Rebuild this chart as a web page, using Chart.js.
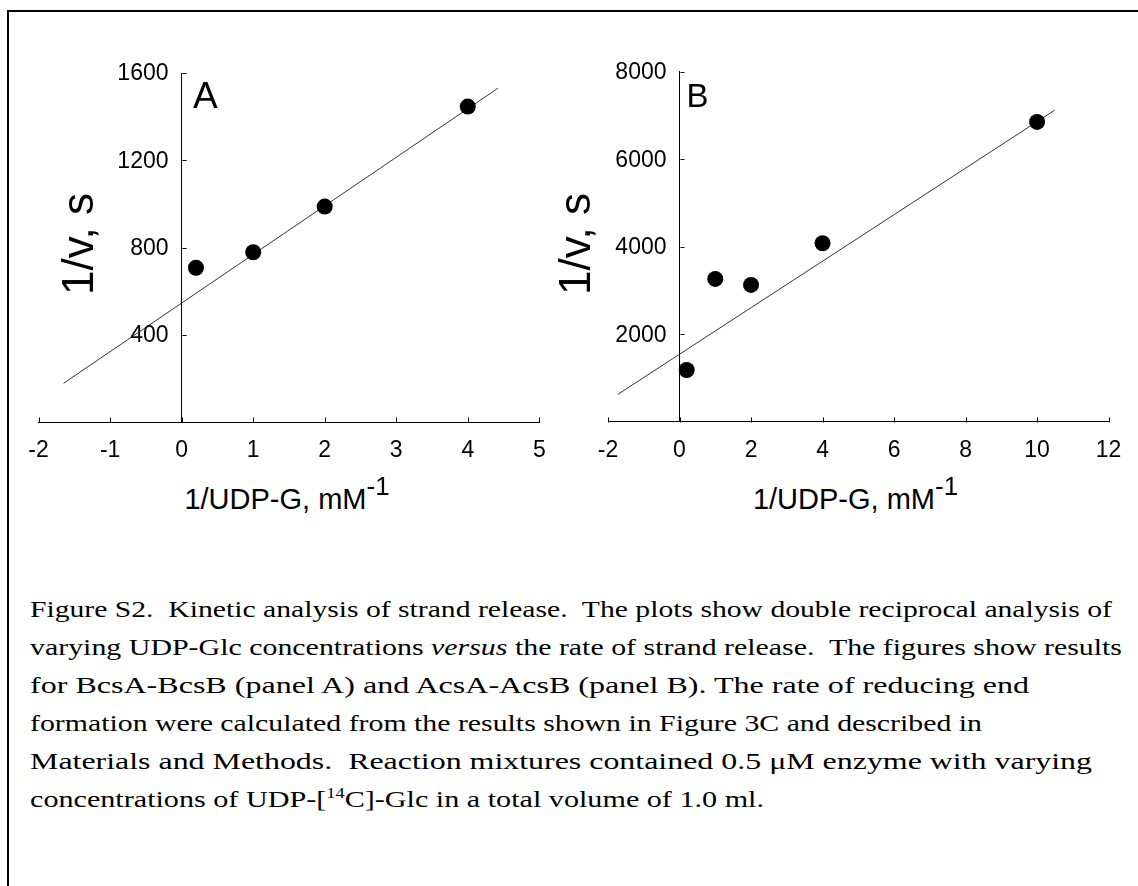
<!DOCTYPE html>
<html>
<head>
<meta charset="utf-8">
<script src="https://cdn.jsdelivr.net/npm/chart.js@4.4.1/dist/chart.umd.min.js"></script>
<style>
  html, body { margin: 0; padding: 0; background: #fff; }
  body { width: 1138px; height: 886px; position: relative; overflow: hidden; font-family: Arial, "Liberation Sans", sans-serif; }
  .frame { position: absolute; left: 7px; top: 10px; width: 1300px; height: 1000px; border-left: 2px solid #000; border-top: 2px solid #000; }
  canvas { position: absolute; }
  .ytitle { position: absolute; width: 200px; height: 44px; line-height: 44px; font-size: 44px; text-align: center; transform: rotate(-90deg); white-space: nowrap; color: #000; }
  .xtitle { position: absolute; width: 400px; height: 29px; line-height: 29px; font-size: 29px; text-align: center; white-space: nowrap; color: #000; }
  .xtitle span { position: relative; top: -14px; font-size: 26px; }
  .panel { position: absolute; color: #000; white-space: nowrap; }
  .capline { position: absolute; left: 30px; font-family: "Times New Roman", "Liberation Serif", serif; font-size: 23px; line-height: 37.9px; height: 37.9px; white-space: pre; color: #000; transform-origin: 0 0; }
  .capline sup { font-size: 14px; line-height: 0; vertical-align: 9px; }
</style>
</head>
<body>
<div class="frame"></div>
<canvas id="chartA"></canvas>
<canvas id="chartB"></canvas>

<div class="ytitle" style="left: -22px; top: 222px;">1/v, s</div>
<div class="ytitle" style="left: 475px; top: 222px;">1/v, s</div>
<div class="xtitle" style="left: 87px; top: 485px;">1/UDP-G, mM<span>-1</span></div>
<div class="xtitle" style="left: 655.5px; top: 485px;">1/UDP-G, mM<span>-1</span></div>
<div class="panel" style="left: 193px; top: 77px; font-size: 37px; line-height: 37px;">A</div>
<div class="panel" style="left: 686.5px; top: 79px; font-size: 33px; line-height: 33px;">B</div>

<div class="capline" data-end="1112" style="top: 591px;">Figure S2.  Kinetic analysis of strand release.  The plots show double reciprocal analysis of</div>
<div class="capline" data-end="1122" style="top: 628.9px;">varying UDP-Glc concentrations <i>versus</i> the rate of strand release.  The figures show results</div>
<div class="capline" data-end="1029" style="top: 666.8px;">for BcsA-BcsB (panel A) and AcsA-AcsB (panel B). The rate of reducing end</div>
<div class="capline" data-end="982" style="top: 704.7px;">formation were calculated from the results shown in Figure 3C and described in</div>
<div class="capline" data-end="1092" style="top: 742.6px;">Materials and Methods.  Reaction mixtures contained 0.5 μM enzyme with varying</div>
<div class="capline" data-end="764" style="top: 780.5px;">concentrations of UDP-[<sup>14</sup>C]-Glc in a total volume of 1.0 ml.</div>

<script>
// ---------- Panel A data ----------
const xA = [0.2, 1, 2, 4];
const yA = [708, 779, 988, 1446];
const fitXA = [-1.65, 4.42];
const fitYA = [179, 1530];
const xRangeA = [-2, 5];
const xStepA = 1;
const yRangeA = [0, 1600];
const yStepA = 400;

// ---------- Panel B data ----------
const xB = [0.2, 1, 2, 4, 10];
const yB = [1184, 3264, 3127, 4080, 6853];
const fitXB = [-1.72, 10.49];
const fitYB = [629, 7120];
const xRangeB = [-2, 12];
const xStepB = 2;
const yRangeB = [0, 8000];
const yStepB = 2000;

const FONT = 'Arial, "Liberation Sans", sans-serif';
const TICK_SIZE = 23;

// inward tick marks + y tick labels placed left of the axis drawn at x = 0
const axisDecor = {
  id: 'axisDecor',
  afterDraw(chart) {
    const ctx = chart.ctx;
    const xs = chart.scales.x, ys = chart.scales.y;
    const axisY = Math.round(ys.getPixelForValue(0)) + 0.5;
    const axisX = Math.round(xs.getPixelForValue(0)) + 0.5;
    ctx.save();
    ctx.strokeStyle = '#000';
    ctx.lineWidth = 1;
    ctx.beginPath();
    xs.ticks.forEach(t => {
      const px = Math.round(xs.getPixelForValue(t.value)) + 0.5;
      ctx.moveTo(px, axisY);
      ctx.lineTo(px, axisY - 5);
    });
    ys.ticks.forEach(t => {
      if (t.value === 0) return;
      const py = Math.round(ys.getPixelForValue(t.value)) + 0.5;
      ctx.moveTo(axisX, py);
      ctx.lineTo(axisX + 4, py);
    });
    ctx.stroke();
    ctx.fillStyle = '#000';
    ctx.font = TICK_SIZE + 'px ' + FONT;
    ctx.textAlign = 'right';
    ctx.textBaseline = 'middle';
    ys.ticks.forEach(t => {
      if (t.value === 0) return;
      ctx.fillText(String(t.value), axisX - 14, ys.getPixelForValue(t.value) + 1);
    });
    ctx.restore();
  }
};

function makeChart(id, left, width, height, pad, xs, ys, fx, fy, xr, xstep, yr, ystep) {
  const cv = document.getElementById(id);
  cv.style.left = left + 'px';
  cv.style.top = '0px';
  cv.style.width = width + 'px';
  cv.style.height = height + 'px';
  cv.width = width; cv.height = height;
  const pts = xs.map((x, i) => ({ x: x, y: ys[i] }));
  const fit = fx.map((x, i) => ({ x: x, y: fy[i] }));
  return new Chart(cv, {
    type: 'scatter',
    data: {
      datasets: [
        { data: pts, backgroundColor: '#000', borderColor: '#000', borderWidth: 0, pointRadius: 8, pointHoverRadius: 8, clip: false, order: 0 },
        { data: fit, showLine: true, borderColor: '#000', borderWidth: 0.8, pointRadius: 0, pointHoverRadius: 0, fill: false, clip: false, order: 1 }
      ]
    },
    options: {
      responsive: false,
      maintainAspectRatio: false,
      animation: false,
      devicePixelRatio: 1,
      events: [],
      layout: { padding: pad },
      plugins: { legend: { display: false }, tooltip: { enabled: false } },
      scales: {
        x: {
          type: 'linear', position: 'bottom',
          min: xr[0], max: xr[1],
          afterFit: (s) => { s.height = 40; },
          grid: { display: false, drawTicks: false },
          border: { display: true, color: '#000', width: 1 },
          ticks: { stepSize: xstep, padding: 15, color: '#000', maxRotation: 0, autoSkip: false,
                   font: { family: FONT, size: TICK_SIZE }, callback: (v) => String(v) }
        },
        y: {
          type: 'linear', position: { x: 0 },
          min: yr[0], max: yr[1],
          grid: { display: false, drawTicks: false },
          border: { display: true, color: '#000', width: 1 },
          ticks: { stepSize: ystep, display: false, autoSkip: false,
                   callback: (v) => (v === 0 ? '' : String(v)) }
        }
      }
    },
    plugins: [axisDecor]
  });
}

makeChart('chartA', 0, 580, 480, { left: 38.6, right: 40.7, top: 73, bottom: 17.7 },
          xA, yA, fitXA, fitYA, xRangeA, xStepA, yRangeA, yStepA);
makeChart('chartB', 580, 558, 480, { left: 28, right: 29.4, top: 71.7, bottom: 18.2 },
          xB, yB, fitXB, fitYB, xRangeB, xStepB, yRangeB, yStepB);

function fitCaption() {
  document.querySelectorAll('.capline').forEach(el => {
    el.style.transform = 'none';
    const w = el.getBoundingClientRect().width;
    const target = parseFloat(el.dataset.end) - 30;
    el.style.transform = 'scaleX(' + (target / w) + ')';
  });
}
fitCaption();
if (document.fonts && document.fonts.ready) document.fonts.ready.then(fitCaption);
</script>
</body>
</html>
